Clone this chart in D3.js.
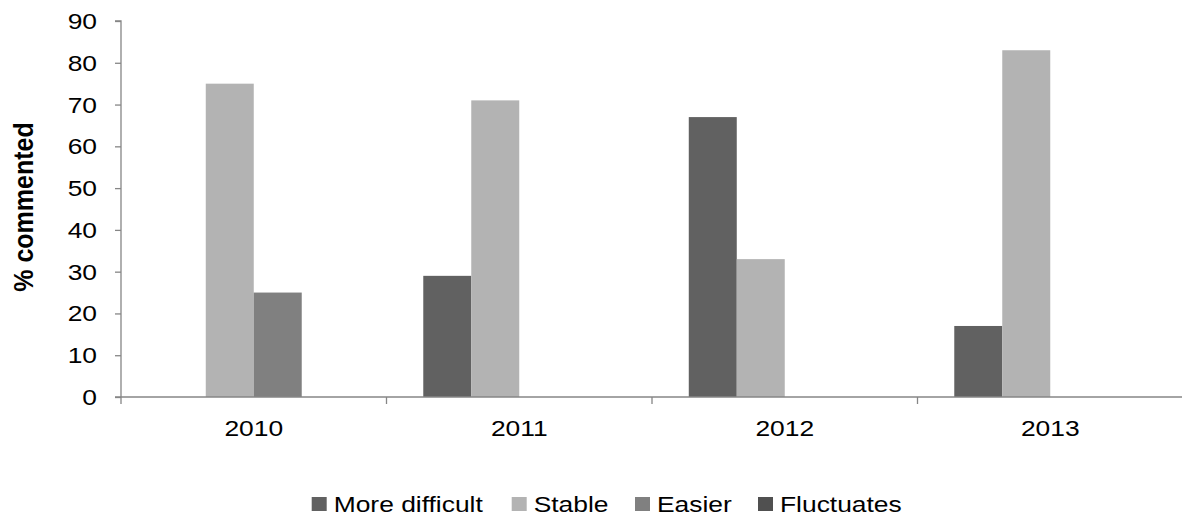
<!DOCTYPE html>
<html>
<head>
<meta charset="utf-8">
<script src="https://cdn.jsdelivr.net/npm/d3@7"></script>
<style>
  body { margin: 0; background: #fff; }
  svg { display: block; font-family: "Liberation Sans", Arial, sans-serif; }
</style>
</head>
<body>
<svg id="chart" width="1182" height="515"></svg>
<script>
// Share of comments per year, by perceived trend
const years = ["2010", "2011", "2012", "2013"];
const seriesNames = ["More difficult", "Stable", "Easier", "Fluctuates"];
const moreDifficult = [0, 29, 67, 17];
const stable = [75, 71, 33, 83];
const easier = [25, 0, 0, 0];
const fluctuates = [0, 0, 0, 0];
const yTicks = [0, 10, 20, 30, 40, 50, 60, 70, 80, 90];
const colors = ["#616161", "#b3b3b3", "#808080", "#505050"];

const seriesValues = [moreDifficult, stable, easier, fluctuates];
const rows = years.map((y, i) => ({ year: y, values: seriesValues.map(s => s[i]) }));

// Text in this chart is set slightly wide
const STRETCH = 1.2;
const FONT = 22;
const AXIS = "#868686";

const svg = d3.select("#chart");
const margin = { left: 121, top: 21 };
const width = 1183 - margin.left;
const height = 397 - margin.top;

const g = svg.append("g").attr("transform", `translate(${margin.left},${margin.top})`);

const x0 = d3.scaleBand().domain(years).range([0, width]).paddingInner(0).paddingOuter(0);
const groupWidth = x0.bandwidth() * 0.723;
const x1 = d3.scaleBand().domain(seriesNames).range([0, groupWidth]).padding(0);
const y = d3.scaleLinear().domain([0, 90]).range([height, 0]);
const color = d3.scaleOrdinal().domain(seriesNames).range(colors);

function wideText(parent, x, yPos, str, anchor, opts = {}) {
  const t = parent.append("g")
    .attr("transform", `translate(${x},${yPos}) scale(${STRETCH},1)`)
    .append("text")
    .attr("text-anchor", anchor)
    .attr("font-size", opts.size || FONT)
    .attr("fill", "#000")
    .text(str);
  if (opts.bold) t.attr("font-weight", "bold");
  return t;
}

// Bars
const groups = g.selectAll(".year")
  .data(rows)
  .join("g")
  .attr("class", "year")
  .attr("transform", d => `translate(${x0(d.year) + (x0.bandwidth() - groupWidth) / 2},0)`);

groups.selectAll("rect")
  .data(d => seriesNames.map((n, i) => ({ name: n, value: d.values[i] })).filter(v => v.value > 0))
  .join("rect")
  .attr("x", d => x1(d.name))
  .attr("y", d => y(d.value))
  .attr("width", x1.bandwidth())
  .attr("height", d => height - y(d.value))
  .attr("fill", d => color(d.name));

// Y axis line and ticks
const yAxis = g.append("g")
  .call(d3.axisLeft(y).tickValues(yTicks).tickSize(6).tickFormat(""));
yAxis.select(".domain").attr("stroke", AXIS).attr("stroke-width", 1.3).attr("d", `M-6,${y(90)}H0V${height}`);
yAxis.selectAll(".tick line").attr("stroke", AXIS).attr("stroke-width", 1.3);

// Y tick labels
yTicks.forEach(v => wideText(g, -24, y(v) + 8, String(v), "end"));

// X axis: ticks on category boundaries
const xAxisG = g.append("g").attr("transform", `translate(0,${height})`);
xAxisG.append("line")
  .attr("x1", -6).attr("x2", width)
  .attr("stroke", AXIS).attr("stroke-width", 1.3);
const boundaries = years.map(yr => x0(yr)).concat([width]);
xAxisG.selectAll(".xtick")
  .data(boundaries)
  .join("line")
  .attr("class", "xtick")
  .attr("x1", d => d).attr("x2", d => d)
  .attr("y1", 0).attr("y2", 7)
  .attr("stroke", AXIS).attr("stroke-width", 1.3);
years.forEach(yr => wideText(xAxisG, x0(yr) + x0.bandwidth() / 2, 39, yr, "middle"));

// Y axis title
svg.append("g")
  .attr("transform", "translate(33,207) rotate(-90) scale(1,1.1)")
  .append("text")
  .attr("text-anchor", "middle")
  .attr("font-size", 25)
  .attr("font-weight", "bold")
  .attr("fill", "#000")
  .text("% commented");

// Legend
const legendX = [311.7, 511.7, 635, 758];
const legend = svg.append("g");
seriesNames.forEach((name, i) => {
  const item = legend.append("g").attr("transform", `translate(${legendX[i]},497)`);
  item.append("rect")
    .attr("width", 15).attr("height", 14)
    .attr("fill", color(name));
  wideText(item, 22, 14.5, name, "start");
});
</script>
</body>
</html>
